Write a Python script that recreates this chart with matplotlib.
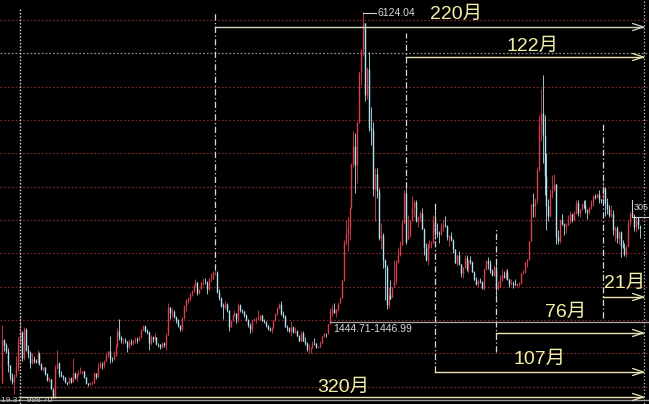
import matplotlib
matplotlib.use("Agg")
import matplotlib.pyplot as plt
import numpy as np

# Shanghai Composite, monthly bars from 1992-05 to 2019-08
start_year, start_month = 1992, 5

opens = [
    560, 1200, 1120, 1040, 820, 640, 570, 668,
    780, 1180, 1320, 925, 1358, 1054, 1009, 860, 921, 890, 870, 1000,
    834, 770, 790, 690, 600, 610, 467, 333, 780, 862, 690, 660,
    648, 563, 549, 628, 574, 700, 630, 683, 710, 713, 730, 640,
    555, 537, 550, 556, 702, 643, 800, 836, 820, 890, 968, 1030,
    917, 914, 970, 1100, 1340, 1250, 1200, 1200, 1180, 1100, 1170, 1150,
    1194, 1222, 1206, 1240, 1346, 1411, 1339, 1320, 1150, 1250, 1217, 1247,
    1147, 1134, 1090, 1158, 1120, 1280, 1689, 1601, 1620, 1550, 1495, 1420,
    1367, 1535, 1714, 1800, 1836, 1894, 1928, 2023, 2070, 1910, 1961, 2070,
    2073, 2065, 1959, 2112, 2120, 2214, 2218, 1920, 1834, 1708, 1689, 1747,
    1646, 1400, 1492, 1580, 1600, 1515, 1732, 1650, 1635, 1580, 1504, 1430,
    1358, 1499, 1510, 1510, 1521, 1576, 1487, 1477, 1421, 1367, 1348, 1397,
    1497, 1590, 1675, 1741, 1595, 1555, 1400, 1387, 1342, 1396, 1320, 1340,
    1266, 1191, 1306, 1181, 1159, 1060, 1080, 1083, 1162, 1155, 1092, 1099,
    1161, 1258, 1299, 1298, 1447, 1641, 1672, 1612, 1658, 1752, 1837, 2099,
    2675, 2786, 2881, 3183, 3841, 4109, 3820, 4471, 5218, 5552, 5954, 4871,
    5262, 4383, 4348, 3472, 3693, 3433, 2736, 2775, 2397, 2293, 1729, 1871,
    1849, 1991, 2082, 2373, 2477, 2632, 2959, 3412, 2720, 2779, 2995, 3195,
    3277, 2989, 3051, 3109, 2870, 2592, 2398, 2638, 2638, 2656, 2978, 2820,
    2808, 2790, 2905, 2928, 2911, 2743, 2762, 2701, 2567, 2359, 2468, 2333,
    2199, 2292, 2428, 2262, 2396, 2372, 2225, 2103, 2047, 2086, 2068, 1980,
    2269, 2385, 2359, 2236, 2177, 2300, 1979, 1994, 2098, 2175, 2141, 2220,
    2116, 2033, 2056, 2033, 2026, 2039, 2048, 2201, 2217, 2364, 2420, 2683,
    3235, 3210, 3310, 3748, 4441, 4612, 4277, 3664, 3206, 3053, 3383, 3445,
    3539, 2738, 2688, 3004, 2938, 2917, 2930, 2979, 3085, 3005, 3100, 3250,
    3104, 3159, 3242, 3223, 3155, 3117, 3192, 3273, 3361, 3349, 3393, 3317,
    3307, 3481, 3259, 3169, 3082, 3095, 2847, 2876, 2725, 2821, 2603, 2588,
    2497, 2605, 2954, 3111, 3058, 2902, 3024, 2910,
]

highs = [
    1429, 1220, 1150, 1080, 830, 700, 690, 960,
    1250, 1558, 1340, 1392, 1380, 1120, 1030, 1000, 960, 920, 1044, 1020,
    850, 800, 800, 700, 640, 620, 480, 830, 1053, 870, 740, 680,
    650, 570, 650, 640, 926, 720, 700, 750, 790, 740, 740, 650,
    560, 570, 580, 720, 710, 860, 890, 870, 900, 1010, 1040, 1258,
    950, 1040, 1140, 1380, 1510, 1260, 1230, 1230, 1190, 1220, 1210, 1200,
    1240, 1240, 1260, 1370, 1420, 1422, 1370, 1330, 1270, 1260, 1300, 1250,
    1160, 1140, 1175, 1170, 1300, 1756, 1700, 1680, 1650, 1560, 1520, 1430,
    1540, 1730, 1810, 1840, 1900, 1950, 2030, 2115, 2075, 1970, 2075, 2125,
    2131, 2080, 2125, 2200, 2232, 2245, 2230, 1960, 1840, 1760, 1780, 1760,
    1650, 1500, 1590, 1650, 1610, 1748, 1740, 1670, 1640, 1590, 1510, 1450,
    1500, 1530, 1540, 1650, 1580, 1580, 1510, 1490, 1430, 1400, 1400, 1500,
    1600, 1690, 1760, 1783, 1640, 1570, 1420, 1400, 1490, 1410, 1390, 1350,
    1270, 1330, 1330, 1240, 1170, 1146, 1090, 1190, 1225, 1160, 1110, 1180,
    1260, 1310, 1310, 1444.71, 1680, 1720, 1757, 1660, 1760, 1840, 2100, 2700,
    2995, 3050, 3200, 3850, 4335, 4312, 4475, 5220, 5560, 6124.04, 5960, 5300,
    5522, 4695, 4473, 3786, 3786, 3473, 2953, 2800, 2420, 2330, 2000, 2100,
    2000, 2403, 2402, 2580, 2690, 3000, 3455, 3478, 3068, 3000, 3361, 3300,
    3306, 3060, 3128, 3181, 2880, 2660, 2650, 2700, 2690, 3074, 3186, 2950,
    2840, 2950, 3000, 3067, 2930, 2780, 2826, 2720, 2570, 2480, 2536, 2340,
    2300, 2478, 2476, 2400, 2453, 2390, 2240, 2150, 2110, 2130, 2080, 2275,
    2400, 2444, 2400, 2270, 2330, 2340, 2090, 2180, 2270, 2240, 2270, 2260,
    2120, 2110, 2080, 2110, 2060, 2070, 2210, 2250, 2370, 2420, 2690, 3239,
    3406, 3330, 3800, 4572, 4958, 5178, 4572, 4006, 3320, 3470, 3678, 3684,
    3539, 2850, 3018, 3097, 2950, 2960, 3080, 3140, 3100, 3140, 3300, 3301,
    3170, 3260, 3300, 3295, 3160, 3200, 3300, 3380, 3390, 3410, 3450, 3320,
    3587, 3496, 3335, 3220, 3220, 3150, 2915, 2915, 2830, 2830, 2700, 2660,
    2630, 2997, 3129, 3288, 3084, 3043, 3048, 2921,
]

lows = [
    555, 1040, 1010, 720, 600, 540, 387, 640,
    740, 1150, 890, 900, 1030, 930, 780, 840, 850, 850, 860, 820,
    750, 740, 680, 580, 570, 460, 326, 330, 760, 640, 640, 600,
    550, 524, 545, 560, 570, 610, 590, 680, 700, 690, 630, 540,
    512, 530, 530, 550, 620, 640, 780, 770, 780, 880, 950, 855,
    870, 900, 960, 1090, 1200, 1150, 1140, 1150, 1025, 1080, 1120, 1130,
    1160, 1160, 1180, 1230, 1330, 1320, 1290, 1043, 1130, 1170, 1200, 1120,
    1100, 1065, 1080, 1100, 1050, 1270, 1520, 1550, 1530, 1460, 1400, 1340,
    1340, 1520, 1640, 1760, 1780, 1860, 1920, 2010, 1870, 1890, 1960, 2030,
    2040, 1893, 1950, 2070, 2110, 2170, 1900, 1800, 1700, 1514, 1670, 1620,
    1339, 1390, 1480, 1560, 1455, 1470, 1620, 1600, 1550, 1480, 1400, 1311,
    1320, 1480, 1460, 1500, 1500, 1480, 1460, 1400, 1350, 1330, 1307, 1380,
    1490, 1580, 1660, 1580, 1530, 1390, 1330, 1320, 1260, 1310, 1310, 1259,
    1180, 1180, 1180, 1130, 1040, 998, 1004, 1080, 1130, 1080, 1075, 1090,
    1160, 1250, 1250, 1295, 1446.99, 1560, 1600, 1540, 1640, 1750, 1830, 2090,
    2620, 2540, 2700, 3180, 3800, 3400, 3560, 4460, 5030, 5460, 4778, 4812,
    4330, 4123, 3358, 2990, 3333, 2693, 2566, 2284, 1802, 1664, 1678, 1814,
    1844, 1991, 2037, 2350, 2460, 2630, 2950, 2639, 2712, 2752, 2990, 3039,
    2963, 2890, 2989, 2870, 2481, 2382, 2319, 2580, 2573, 2650, 2720, 2750,
    2661, 2780, 2840, 2900, 2700, 2610, 2690, 2500, 2350, 2307, 2320, 2150,
    2132, 2280, 2242, 2210, 2340, 2220, 2100, 2030, 2000, 2050, 1960, 1949,
    2250, 2260, 2200, 2160, 2160, 1849, 1951, 1990, 2090, 2130, 2110, 2100,
    1990, 2030, 1974, 2020, 1991, 2010, 2040, 2190, 2210, 2290, 2400, 2680,
    3050, 3050, 3260, 3740, 4190, 3848, 3373, 2850, 2983, 3040, 3330, 3430,
    2638, 2638, 2650, 2930, 2780, 2808, 2930, 2950, 2970, 3000, 3090, 3056,
    3044, 3150, 3180, 3110, 3016, 3090, 3160, 3210, 3320, 3330, 3250, 3250,
    3300, 3063, 3090, 3040, 3040, 2780, 2691, 2653, 2645, 2449, 2580, 2463,
    2440, 2601, 2917, 3044, 2839, 2822, 2863, 2733,
]

closes = [
    1200, 1120, 1040, 820, 640, 570, 668, 780,
    1180, 1320, 925, 1358, 1054, 1009, 860, 921, 890, 870, 1000, 834,
    770, 790, 690, 600, 610, 467, 333, 780, 862, 690, 660, 648,
    563, 549, 628, 574, 700, 630, 683, 710, 713, 730, 640, 555,
    537, 550, 556, 702, 643, 800, 836, 820, 890, 968, 1030, 917,
    914, 970, 1100, 1340, 1250, 1200, 1200, 1180, 1100, 1170, 1150, 1194,
    1222, 1206, 1240, 1346, 1411, 1339, 1320, 1150, 1250, 1217, 1247, 1147,
    1134, 1090, 1158, 1120, 1280, 1689, 1601, 1620, 1550, 1495, 1420, 1367,
    1535, 1714, 1800, 1836, 1894, 1928, 2023, 2070, 1910, 1961, 2070, 2073,
    2065, 1959, 2112, 2120, 2214, 2218, 1920, 1834, 1708, 1689, 1747, 1646,
    1400, 1492, 1580, 1600, 1515, 1732, 1650, 1635, 1580, 1504, 1430, 1358,
    1499, 1510, 1510, 1521, 1576, 1487, 1477, 1421, 1367, 1348, 1397, 1497,
    1590, 1675, 1741, 1595, 1555, 1400, 1387, 1342, 1396, 1320, 1340, 1266,
    1191, 1306, 1181, 1159, 1060, 1080, 1083, 1162, 1155, 1092, 1099, 1161,
    1258, 1299, 1298, 1440, 1641, 1672, 1612, 1658, 1752, 1837, 2099, 2675,
    2786, 2881, 3183, 3841, 4109, 3820, 4471, 5218, 5552, 5954, 4871, 5262,
    4383, 4348, 3472, 3693, 3433, 2736, 2775, 2397, 2293, 1729, 1871, 1821,
    1991, 2082, 2373, 2477, 2632, 2959, 3412, 2667, 2779, 2995, 3195, 3277,
    2989, 3051, 3109, 2870, 2592, 2398, 2638, 2638, 2656, 2978, 2820, 2808,
    2790, 2905, 2928, 2911, 2743, 2762, 2701, 2567, 2359, 2468, 2333, 2199,
    2292, 2428, 2262, 2396, 2372, 2225, 2103, 2047, 2086, 2068, 1980, 2269,
    2385, 2359, 2236, 2177, 2300, 1979, 1994, 2098, 2175, 2141, 2220, 2116,
    2033, 2056, 2033, 2026, 2039, 2048, 2201, 2217, 2364, 2420, 2683, 3235,
    3210, 3310, 3748, 4441, 4612, 4277, 3664, 3206, 3053, 3383, 3445, 3539,
    2738, 2688, 3004, 2938, 2917, 2930, 2979, 3085, 3005, 3100, 3250, 3104,
    3159, 3242, 3223, 3155, 3117, 3192, 3273, 3361, 3349, 3393, 3317, 3307,
    3481, 3259, 3169, 3082, 3095, 2847, 2876, 2725, 2821, 2603, 2588, 2494,
    2585, 2941, 3091, 3078, 2899, 2979, 2932, 2886,
]

# Annotation texts and the months the spans start from
span_labels = ["220月", "122月", "107月", "76月", "21月", "320月"]
span_starts = ["2001-06", "2009-08", "2010-11", "2013-06", "2018-01", "1993-02"]
target_month = "2019-10"
peak_label = "6124.04"
gap_label = "1444.71-1446.99"
last_label = "305"
bottom_label = "19.37  998.70"

# ---------------------------------------------------------------
def month_index(s):
    y, m = map(int, s.split("-"))
    return (y - 1993) * 12 + (m - 2)   # 0 = 1993-02

n = len(closes)
t0 = (start_year - 1993) * 12 + (start_month - 2)
t = np.arange(n) + t0
O = np.array(opens, float); H = np.array(highs, float)
L = np.array(lows, float); C = np.array(closes, float)

BG = "black"
UP = "#d8404f"
DOWN = "#b4e2ee"
TXT = "#f2f0a8"
FONT = ["Liberation Sans", "Noto Sans CJK SC", "DejaVu Sans"]

fig = plt.figure(figsize=(6.49, 4.04), dpi=100, facecolor=BG)
ax = fig.add_axes([0, 0, 1, 1], facecolor=BG)
PX = 1.95          # pixels per month
ax.set_xlim(-20 / PX, (649 - 20) / PX)
ax.set_ylim(240, 6300)
ax.axis("off")

def py(ypx):       # pixel row -> price
    return (420 - ypx) * 15.0

# grid lines every 500 points
for lvl in range(500, 6001, 500):
    col = "#8a8a8a" if lvl == 5500 else "#7a2626"
    ax.axhline(lvl, color=col, lw=0.9, ls=(0, (1.5, 1.5)), zorder=1)

# bottom border line
ax.axhline(py(399.5), color="#9a9a9a", lw=1.0, zorder=2)

# candles
up = C >= O
cols = np.where(up, UP, DOWN)
ax.vlines(t, L, H, colors=cols, lw=0.6, zorder=3)
ax.vlines(t, np.minimum(O, C), np.maximum(O, C), colors=cols, lw=1.0, zorder=3)

# vertical markers
tt = month_index(target_month)
ax.vlines(0, 240, py(8), colors="#c8c8c8", lw=1.0, ls=(0, (1.2, 1.2)), zorder=4)
ax.vlines(tt, 240, 6300, colors="#b0b0b0", lw=0.9, ls=(0, (1.2, 1.5)), zorder=4)

vert_tops = {"2001-06": py(12), "2009-08": py(33), "2010-11": py(203),
             "2013-06": py(228), "2018-01": py(122)}
vert_bottoms = {"2001-06": 2245, "2009-08": 3478, "2010-11": py(372),
                "2013-06": py(352), "2018-01": py(318)}
for s in vert_tops:
    x = month_index(s)
    ax.vlines(x, vert_bottoms[s], vert_tops[s], colors="#d8d8d8", lw=0.9,
              ls=(0, (5, 2, 1, 2)), zorder=4)

# arrows
arrow_y = [py(27), py(57), py(372), py(333), py(297), py(397)]
arrow_col = ["#cdd6c0", "#ece4b4", "#ece4b4", "#ece4b4", "#ece4b4", "#ece4b4"]
label_pos = [(456, 14), (533, 46), (540, 359), (566, 312), (625, 283), (343, 387)]
tip = tt - 0.3
for lab, s, yv, col, (lx, ly) in zip(span_labels, span_starts, arrow_y, arrow_col, label_pos):
    x0 = month_index(s)
    ax.plot([x0, tip], [yv, yv], color=col, lw=1.0, zorder=5)
    ax.plot([tip - 5.5, tip, tip - 5.5], [yv + 52, yv, yv - 52], color=col, lw=0.9, zorder=5)
    ax.text((lx - 20) / PX, py(ly), lab, color=TXT, fontsize=14, family=FONT,
            ha="center", va="center", zorder=6)

# peak label
tp = month_index("2007-10")
ax.plot([tp, (376 - 20) / PX], [py(13), py(13)], color="#d0d0d0", lw=0.8, zorder=5)
ax.text((378 - 20) / PX, py(13), peak_label, color="#d8d8d8", fontsize=7.5,
        family=FONT, ha="left", va="center", zorder=6)

# gap label
ax.plot([(330 - 20) / PX, 400], [py(322), py(322)], color="#a8a8a8", lw=0.9, zorder=5)
ax.text((333 - 20) / PX, py(329.5), gap_label, color="#d8d8d8", fontsize=7.5,
        family=FONT, ha="left", va="center", zorder=6)

# last price marker
xl = (632 - 20) / PX
ax.plot([xl, xl], [py(200), py(217)], color="#d0d0d0", lw=0.8, zorder=5)
ax.plot([xl, 400], [py(217), py(217)], color="#d0d0d0", lw=0.8, zorder=5)
ax.text((634 - 20) / PX, py(208), last_label, color="#d8d8d8", fontsize=6.5,
        family=FONT, ha="left", va="center", zorder=6)

# small text at the bottom-left
ax.text(-19 / PX, py(403.5), bottom_label, color="#c8c8c8", fontsize=6,
        family=FONT, ha="left", va="bottom", zorder=6)

fig.savefig("out.png", dpi=100, facecolor=BG)
